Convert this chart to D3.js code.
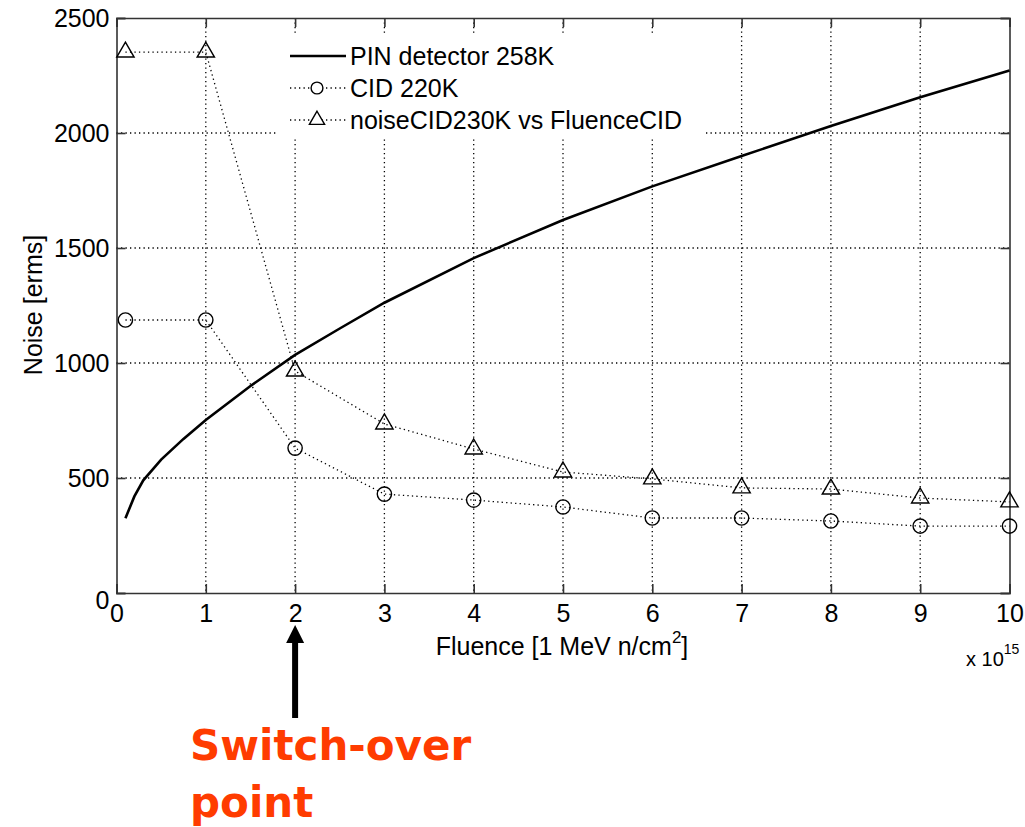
<!DOCTYPE html>
<html>
<head>
<meta charset="utf-8">
<script src="https://cdn.jsdelivr.net/npm/d3@7"></script>
<style>
body{margin:0;background:#fff;}
svg text{font-family:Arial,"Liberation Sans",sans-serif;}
</style>
</head>
<body>
<svg width="1025" height="827"></svg>
<script>
// PIN detector 258K (solid curve)
var pinX = [0.1, 0.2, 0.3, 0.5, 0.75, 1, 1.5, 2, 2.5, 3, 4, 5, 6, 7, 8, 9, 10];
var pinY = [325, 420, 490, 580, 670, 752, 900, 1035, 1150, 1262, 1456, 1622, 1768, 1900, 2030, 2155, 2272];
// CID 220K (circles)
var cidX = [0.1, 1, 2, 3, 4, 5, 6, 7, 8, 9, 10];
var cidY = [1187, 1187, 630, 430, 404, 374, 326, 326, 313, 291, 291];
// noiseCID230K vs FluenceCID (triangles)
var triX = [0.1, 1, 2, 3, 4, 5, 6, 7, 8, 9, 10];
var triY = [2352, 2352, 965, 735, 626, 526, 496, 457, 452, 413, 396];

var xTicks = [0,1,2,3,4,5,6,7,8,9,10];
var yTicks = [0,500,1000,1500,2000,2500];
var legendNames = ["PIN detector 258K", "CID 220K", "noiseCID230K vs FluenceCID"];

var svg = d3.select("svg");
var L = 116.5, R = 1009.5, T = 18, B = 593;
var x = d3.scaleLinear().domain([0,10]).range([L,R]);
var y = d3.scaleLinear().domain([0,2500]).range([B,T]);

//grid
svg.append("g").selectAll("line").data(xTicks.slice(1,-1)).enter().append("line")
	.attr("x1", d=>x(d)).attr("x2", d=>x(d)).attr("y1", T).attr("y2", B)
	.style("stroke","#000").style("stroke-width",1.3).style("stroke-dasharray","1.3,3.2");
svg.append("g").selectAll("line").data(yTicks.slice(1,-1)).enter().append("line")
	.attr("x1", L).attr("x2", R).attr("y1", d=>y(d)).attr("y2", d=>y(d))
	.style("stroke","#000").style("stroke-width",1.3).style("stroke-dasharray","1.3,3.2");

// legend backdrop hides grid
svg.append("rect").attr("x",277).attr("y",34).attr("width",428).attr("height",104).style("fill","#fff");

// axes (box with inner ticks)
var fnt = "25px";
svg.append("g").attr("transform","translate(0,"+B+")")
	.call(d3.axisBottom(x).tickValues(xTicks).tickSize(-9).tickPadding(11).tickFormat(d3.format("d")))
	.call(g=>g.selectAll("text").style("font-size",fnt).attr("fill","#000"));
svg.append("g").attr("transform","translate("+L+",0)")
	.call(d3.axisLeft(y).tickValues(yTicks).tickSize(-9).tickPadding(7).tickFormat(d3.format("d")))
	.call(g=>g.selectAll("text").style("font-size",fnt).attr("fill","#000"))
	.call(g=>g.selectAll("text").filter(d=>d==0).attr("dy","0.62em"));
svg.append("g").attr("transform","translate(0,"+T+")")
	.call(d3.axisTop(x).tickValues(xTicks).tickSize(-9).tickFormat(""));
svg.append("g").attr("transform","translate("+R+",0)")
	.call(d3.axisRight(y).tickValues(yTicks).tickSize(-9).tickFormat(""));
svg.selectAll(".domain, .tick line").style("stroke","#333").style("stroke-width",1.6);

// series
var line = d3.line().x(d=>x(d[0])).y(d=>y(d[1]));
svg.append("path").datum(d3.zip(pinX,pinY)).attr("d",line)
	.style("fill","none").style("stroke","#000").style("stroke-width",2.6);
svg.append("path").datum(d3.zip(cidX,cidY)).attr("d",line)
	.style("fill","none").style("stroke","#000").style("stroke-width",1.3).style("stroke-dasharray","1.3,3.2");
svg.append("path").datum(d3.zip(triX,triY)).attr("d",line)
	.style("fill","none").style("stroke","#000").style("stroke-width",1.3).style("stroke-dasharray","1.3,3.2");

var circ = d3.symbol().type(d3.symbolCircle).size(160);
var tri = d3.symbol().type(d3.symbolTriangle).size(130);
svg.append("g").selectAll("path").data(d3.zip(cidX,cidY)).enter().append("path")
	.attr("d",circ).attr("transform",d=>"translate("+x(d[0])+","+y(d[1])+")")
	.style("fill","none").style("stroke","#000").style("stroke-width",1.4);
svg.append("g").selectAll("path").data(d3.zip(triX,triY)).enter().append("path")
	.attr("d",tri).attr("transform",d=>"translate("+x(d[0])+","+y(d[1])+")")
	.style("fill","none").style("stroke","#000").style("stroke-width",1.4);

// legend
var legY = [56, 88, 120];
legendNames.forEach(function(n,i){
	var ln = svg.append("line").attr("x1",290).attr("x2",346).attr("y1",legY[i]).attr("y2",legY[i])
		.style("stroke","#000");
	if(i==0) ln.style("stroke-width",2.6);
	else ln.style("stroke-width",1.3).style("stroke-dasharray","1.3,3.2");
	if(i==1) svg.append("path").attr("d",d3.symbol().type(d3.symbolCircle).size(110)).attr("transform","translate(317,"+legY[i]+")")
		.style("fill","#fff").style("stroke","#000").style("stroke-width",1.4);
	if(i==2) svg.append("path").attr("d",d3.symbol().type(d3.symbolTriangle).size(100)).attr("transform","translate(317,"+legY[i]+")")
		.style("fill","#fff").style("stroke","#000").style("stroke-width",1.4);
	svg.append("text").attr("x",350).attr("y",legY[i]+9).style("font-size",fnt).attr("fill","#000").text(n);
});

// axis labels
var xl = svg.append("text").attr("x",562).attr("y",655).attr("text-anchor","middle").style("font-size","25px");
xl.append("tspan").text("Fluence [1 MeV n/cm");
xl.append("tspan").attr("dy",-12).style("font-size","17px").text("2");
xl.append("tspan").attr("dy",12).text("]");
svg.append("text").attr("transform","translate(42,305) rotate(-90)").attr("text-anchor","middle")
	.style("font-size","25px").text("Noise [erms]");
var ex = svg.append("text").attr("x",966).attr("y",666).style("font-size","20px");
ex.append("tspan").text("x 10");
ex.append("tspan").attr("dy",-12).style("font-size","14px").text("15");

// annotation arrow
svg.append("line").attr("x1",x(2)).attr("x2",x(2)).attr("y1",640).attr("y2",718)
	.style("stroke","#000").style("stroke-width",6);
svg.append("path").attr("d","M"+x(2)+",625 L"+(x(2)-9)+",643 L"+(x(2)+9)+",643 Z").style("fill","#000");
svg.append("text").attr("x",190).attr("y",760).style("font-family","'DejaVu Sans',sans-serif").style("font-weight","bold")
	.style("font-size","42px").attr("fill","#ff3c00").text("Switch-over");
svg.append("text").attr("x",190).attr("y",817).style("font-family","'DejaVu Sans',sans-serif").style("font-weight","bold")
	.style("font-size","42px").attr("fill","#ff3c00").text("point");
</script>
</body>
</html>
